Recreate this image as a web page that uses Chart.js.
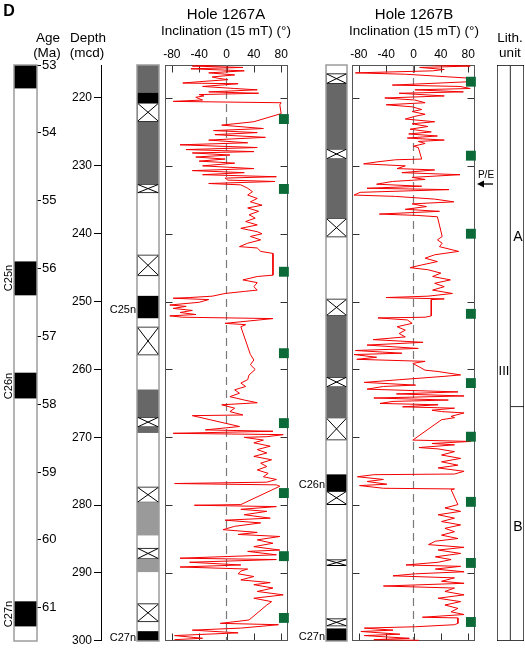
<!DOCTYPE html>
<html>
<head>
<meta charset="utf-8">
<title>Site 1267 inclination</title>
<script src="https://cdn.jsdelivr.net/npm/chart.js@4.4.1/dist/chart.umd.min.js"></script>
<style>
  html, body { margin: 0; padding: 0; background: #fff; }
  #fig { position: relative; width: 525px; height: 650px; overflow: hidden;
         font-family: "Liberation Sans", Arial, Helvetica, sans-serif; color: #000; }
  #fig canvas { position: absolute; top: 0; }
  .lbl { position: absolute; white-space: nowrap; line-height: 1; transform: translate(-50%, -50%); }
  .rt { transform: translate(-100%, -50%); }
  .rot { transform: translate(-50%, -50%) rotate(-90deg); }
</style>
</head>
<body>
<div id="fig">
  <canvas id="ageCol" width="62" height="650" style="left:0px"></canvas>
  <canvas id="depthAxis" width="66" height="650" style="left:40px"></canvas>
  <canvas id="polA" width="36" height="650" style="left:130px"></canvas>
  <canvas id="incA" width="137" height="650" style="left:158px"></canvas>
  <canvas id="polB" width="33" height="650" style="left:320px"></canvas>
  <canvas id="incB" width="137" height="650" style="left:345px"></canvas>
  <canvas id="lith" width="35" height="650" style="left:490px"></canvas>

  <div class="lbl" style="left:9px;top:11px;font-size:16px;font-weight:bold">D</div>
  <div class="lbl" style="left:48px;top:38px;font-size:13.5px">Age</div>
  <div class="lbl" style="left:47px;top:53px;font-size:13.5px">(Ma)</div>
  <div class="lbl" style="left:88px;top:38px;font-size:13.5px">Depth</div>
  <div class="lbl" style="left:87px;top:53px;font-size:13.5px">(mcd)</div>
  <div class="lbl" style="left:226px;top:13px;font-size:15px">Hole 1267A</div>
  <div class="lbl" style="left:226px;top:31px;font-size:13.5px">Inclination (15 mT) (°)</div>
  <div class="lbl" style="left:414px;top:13px;font-size:15px">Hole 1267B</div>
  <div class="lbl" style="left:414px;top:31px;font-size:13.5px">Inclination (15 mT) (°)</div>
  <div class="lbl" style="left:510px;top:38px;font-size:13.5px">Lith.</div>
  <div class="lbl" style="left:510px;top:53px;font-size:13.5px">unit</div>

  <div class="lbl rot" style="left:8px;top:278px;font-size:11px">C25n</div>
  <div class="lbl rot" style="left:8px;top:386px;font-size:11px">C26n</div>
  <div class="lbl rot" style="left:8px;top:614px;font-size:11px">C27n</div>
  <div class="lbl rt" style="left:136px;top:309px;font-size:11px">C25n</div>
  <div class="lbl rt" style="left:136px;top:637px;font-size:11px">C27n</div>
  <div class="lbl rt" style="left:325px;top:484px;font-size:11px">C26n</div>
  <div class="lbl rt" style="left:325px;top:636px;font-size:11px">C27n</div>

  <div class="lbl" style="left:486px;top:175px;font-size:10px">P/E</div>
  <svg style="position:absolute;left:474px;top:178px" width="20" height="12">
    <line x1="19" y1="6" x2="7" y2="6" stroke="#000" stroke-width="1.3"/>
    <path d="M3,6 L10,2.5 L10,9.5 Z" fill="#000"/>
  </svg>

  <div class="lbl" style="left:504px;top:370px;font-size:13px">III</div>
  <div class="lbl" style="left:518px;top:236px;font-size:14px">A</div>
  <div class="lbl" style="left:518px;top:526px;font-size:14px">B</div>
</div>

<script>
Chart.defaults.font.family = '"Liberation Sans", Arial, Helvetica, sans-serif';
Chart.defaults.font.size = 12;
Chart.defaults.color = '#000';

const DEPTH_MIN = 215.14, DEPTH_MAX = 300;
const AGE_MIN = 53, AGE_MAX = 61.49;

const ageTicks = [53, 54, 55, 56, 57, 58, 59, 60, 61];
const depthTicks = [220, 230, 240, 250, 260, 270, 280, 290, 300];
const incTicks = [-80, -40, 0, 40, 80];

// GPTS column, normal chrons (Ma)
const ageNormal = [[53.0, 53.34], [55.9, 56.39], [57.54, 57.91], [60.91, 61.27]];

// Hole 1267A polarity column (mcd)
const polA_normal = [[219.3, 220.7], [249.2, 252.4], [298.6, 300]];
const polA_reversed = [[215.14, 219.3], [223.5, 232.7], [263.0, 267.0], [268.5, 269.3]];
const polA_uncertain = [[279.6, 284.4], [287.9, 289.8]];
const polA_gap = [[220.7, 223.5], [232.7, 234.0], [243.1, 246.2], [253.7, 257.9], [267.0, 268.5],
                  [277.3, 279.6], [286.3, 287.9], [294.5, 297.2]];

// Hole 1267B polarity column (mcd)
const polB_normal = [[275.5, 277.9], [298.2, 300]];
const polB_reversed = [[217.9, 227.5], [229.0, 237.7], [252.1, 261.1], [262.6, 267.1]];
const polB_gap = [[216.4, 217.9], [227.5, 229.0], [237.7, 240.5], [249.6, 252.1], [261.1, 262.6],
                  [267.1, 270.4], [277.9, 279.9], [288.0, 288.9], [296.7, 297.8]];

// lithologic units (mcd)
const unitIII = [DEPTH_MIN, DEPTH_MAX];
const subunitA = [DEPTH_MIN, 265.5];
const subunitB = [265.5, DEPTH_MAX];

// [depth mcd, inclination deg]
const incA = [
  [215.0, 9], [215.3, -50], [215.5, 24], [215.7, -52], [216.0, 26], [216.3, -26], [216.6, 12], [216.9, -21],
  [217.1, -12], [217.3, 2], [217.6, -40], [217.8, -64], [217.9, 17], [218.3, -35], [218.6, 12], [218.8, 45],
  [219.1, -26], [219.3, 47], [219.5, -40], [219.7, -33], [219.9, -45], [220.3, -35], [220.5, -78], [220.7, 80],
  [221.0, 78], [222.3, 80], [223.5, 40], [224.0, -7], [224.5, 54], [224.8, -19], [225.1, 45], [225.4, -17],
  [225.8, 57], [226.2, -26], [226.6, 31], [226.9, -68], [227.3, 45], [227.6, -59], [227.9, 40], [228.1, -50],
  [228.4, 5], [228.7, -45], [229.0, -2], [229.3, -40], [229.6, 12], [230.0, -35], [230.4, 40], [230.7, -50],
  [231.0, 26], [231.3, -35], [231.6, 73], [231.8, -2], [232.1, 2], [232.3, 71], [232.6, -26], [232.8, 21],
  [233.3, 31], [233.8, 38], [234.3, 31], [234.8, 45], [235.3, 35], [235.8, 52], [236.2, 31], [236.7, 47],
  [237.2, 33], [237.7, 42], [238.2, 28], [238.7, 45], [239.2, 21], [239.7, 45], [240.0, 52], [240.4, 35],
  [240.9, 50], [241.4, 31], [241.9, 19], [242.1, 45], [242.6, 50], [242.9, 68], [246.1, 68], [246.3, 45],
  [246.8, 24], [247.2, 45], [247.8, 40], [248.3, 45], [248.5, 26], [248.8, -2], [249.2, -21], [249.4, -54],
  [249.5, -78], [249.7, -26], [250.1, -40], [250.5, -83], [250.7, -59], [251.0, -78], [251.3, -50], [251.6, -68],
  [251.9, -45], [252.1, -83], [252.3, -64], [252.5, 68], [253.2, -2], [253.4, 28], [253.7, 21], [257.8, 35],
  [258.6, 40], [259.3, 35], [260.0, 42], [260.8, 33], [261.5, 31], [262.0, 21], [262.5, 28], [263.0, 12],
  [263.5, 19], [264.0, 5], [264.5, 26], [264.9, 45], [265.2, -7], [265.7, 12], [266.2, 5], [266.7, 24],
  [266.8, -50], [268.4, 19], [268.9, -31], [269.1, 68], [269.4, -78], [269.6, 83], [269.9, 59], [270.0, 26],
  [270.4, 54], [270.8, 40], [271.3, 64], [271.8, 45], [272.3, 59], [272.8, 40], [273.3, 66], [273.8, 50],
  [274.3, 59], [274.8, 45], [275.3, 61], [275.8, 54], [276.2, 73], [276.6, 59], [276.8, -76], [277.0, 73],
  [277.2, 78], [279.9, 21], [280.0, -47], [280.2, 73], [280.6, 21], [280.9, 59], [281.4, 26], [281.9, 64],
  [282.2, -2], [282.6, 50], [283.1, 12], [283.6, -5], [284.0, 45], [284.3, 17], [284.6, 78], [285.1, 45],
  [285.6, 68], [286.1, 40], [286.6, 78], [286.8, 31], [287.3, 73], [287.8, -68], [288.0, 73], [288.4, -54],
  [288.8, 21], [289.1, -68], [289.4, 31], [289.7, 21], [290.1, 17], [290.5, 40], [291.0, 21], [291.4, 64],
  [291.7, 40], [292.2, 68], [292.7, 45], [293.2, 83], [293.7, 40], [294.2, 66], [294.7, 59], [296.9, 33],
  [297.1, 17], [297.4, -9], [297.6, 76], [298.1, 21], [298.4, -50], [298.8, 17], [299.2, -76], [299.6, -35],
  [299.8, -76]
];

const incB = [
  [215.1, 26], [215.3, 83], [215.5, 9], [215.8, 45], [216.0, 28], [216.3, -85], [216.5, -12], [217.1, 85],
  [217.6, 83], [218.1, -31], [218.3, 68], [218.6, 83], [218.8, 2], [219.1, 73], [219.3, -21], [219.7, 45],
  [220.0, -42], [220.3, 2], [220.7, 17], [221.0, -40], [221.3, -2], [221.7, 12], [222.0, -2], [222.4, 17],
  [222.7, 2], [223.1, -12], [223.5, 31], [223.8, -2], [224.2, 21], [224.6, -5], [225.0, 26], [225.3, -7],
  [225.6, 35], [225.9, -9], [226.2, 45], [226.4, 7], [226.7, 17], [227.1, 0], [227.3, 7], [229.0, 12],
  [229.1, -26], [229.4, -52], [229.7, -73], [230.0, -12], [230.4, -24], [230.6, 31], [231.0, -17], [231.3, 68],
  [231.7, -2], [232.0, 17], [232.3, -31], [232.7, -54], [233.0, 12], [233.3, -68], [233.5, 52], [233.9, -78],
  [234.3, -87], [234.5, -26], [234.9, 31], [235.3, 59], [235.6, -2], [236.0, 19], [236.4, -12], [236.7, 38],
  [237.1, -50], [237.3, 5], [237.5, 35], [240.4, 42], [240.9, 35], [241.4, 42], [241.9, 38], [242.6, 66],
  [243.1, 31], [243.6, 17], [244.1, 35], [244.6, 12], [245.0, -5], [245.3, 21], [245.8, 40], [246.3, 28],
  [246.8, 54], [247.3, 31], [247.8, 45], [248.3, 28], [248.8, 57], [249.2, 21], [249.4, -40], [249.6, 45],
  [249.7, 26], [252.1, 26], [252.3, 17], [252.4, -52], [252.7, -9], [253.2, -2], [253.7, -24], [254.2, -12],
  [254.7, -21], [255.2, -12], [255.6, -59], [256.0, 14], [256.4, -68], [256.9, 7], [257.2, -85], [257.6, -17],
  [257.8, -87], [258.2, -54], [258.5, -83], [258.8, 17], [259.1, -1], [259.6, 8], [260.1, 17], [260.3, 36],
  [260.8, 69], [261.0, 46], [261.5, -20], [261.9, -72], [262.3, 3], [262.5, -44], [262.9, -68], [263.3, 65],
  [263.6, -25], [263.9, 74], [264.2, -58], [264.5, 51], [264.7, -30], [265.0, -49], [265.2, 36], [265.5, -16],
  [265.7, 60], [266.0, 27], [266.2, 41], [266.4, 74], [266.9, 55], [267.1, 60], [267.4, 41], [270.4, -1],
  [270.6, 84], [270.9, 27], [271.1, 60], [271.5, 8], [271.7, 36], [272.1, 60], [272.6, 41], [273.1, 69],
  [273.6, 41], [274.1, 65], [274.5, 36], [275.0, 74], [275.4, 60], [275.5, -58], [275.8, -82], [276.2, -44],
  [276.5, -68], [276.9, -39], [277.1, -79], [277.5, -44], [277.6, 60], [277.7, 55], [279.9, 65], [280.4, 46],
  [280.9, 69], [281.4, 36], [281.9, 60], [282.4, 41], [282.9, 69], [283.4, 46], [283.9, 60], [284.4, 41],
  [284.9, 65], [285.3, 32], [285.8, 22], [286.2, 74], [286.6, 36], [287.1, 69], [287.6, 32], [288.0, 55],
  [288.4, 36], [288.8, -11], [289.0, 69], [289.4, 32], [289.8, 74], [290.1, 3], [290.4, -30], [290.7, 60],
  [291.2, 41], [291.5, 74], [291.9, -44], [292.2, 60], [292.7, 46], [293.2, 74], [293.7, 36], [294.2, 69],
  [294.7, 46], [295.2, 65], [295.7, 55], [296.1, 74], [296.5, 13], [296.6, 65], [297.4, 65], [297.6, 60],
  [297.9, 3], [298.1, -72], [298.4, -30], [298.6, -77], [299.0, -20], [299.2, -72], [299.6, -6], [299.8, -58],
  [299.9, 8]
];

// discrete sample depths (green squares, plotted at the right edge)
const samplesA = [223.1, 233.4, 245.6, 257.6, 267.9, 278.2, 287.5, 296.6];
const samplesB = [217.6, 228.5, 240.0, 251.8, 262.0, 269.9, 279.5, 288.5, 297.2];
const SAMPLE_MARK = 84;

// draw an X across the "no data" boxes
const crossBoxes = {
  id: 'crossBoxes',
  afterDatasetsDraw(chart) {
    const ctx = chart.ctx;
    chart.data.datasets.forEach((ds, i) => {
      if (!ds.crossed) return;
      chart.getDatasetMeta(i).data.forEach(bar => {
        const { x, y, base, width } = bar.getProps(['x', 'y', 'base', 'width'], true);
        const l = x - width / 2, r = x + width / 2;
        ctx.save();
        ctx.strokeStyle = '#000';
        ctx.lineWidth = 1;
        ctx.beginPath();
        ctx.moveTo(l, y); ctx.lineTo(r, base);
        ctx.moveTo(r, y); ctx.lineTo(l, base);
        ctx.stroke();
        ctx.restore();
      });
    });
  }
};

const columnFrame = {
  id: 'columnFrame',
  afterDatasetsDraw(chart) {
    const { ctx, chartArea: a } = chart;
    ctx.save();
    ctx.strokeStyle = '#9c9c9c';
    ctx.lineWidth = 1.5;
    ctx.strokeRect(a.left, a.top, a.right - a.left, a.bottom - a.top);
    ctx.restore();
  }
};

// frame with inward ticks on all four sides
const panelFrame = {
  id: 'panelFrame',
  beforeDatasetsDraw(chart) {
    const { ctx, chartArea: a, scales: { x, y } } = chart;
    const L = Math.round(a.left) + 0.5, R = Math.round(a.right) - 0.5;
    const T = Math.round(a.top) + 0.5, B = Math.round(a.bottom) - 0.5;
    ctx.save();
    ctx.strokeStyle = '#333';
    ctx.lineWidth = 1;
    ctx.beginPath();
    incTicks.forEach(v => {
      const px = Math.round(x.getPixelForValue(v)) + 0.5;
      ctx.moveTo(px, T); ctx.lineTo(px, T + 7);
      ctx.moveTo(px, B); ctx.lineTo(px, B - 7);
    });
    depthTicks.forEach(v => {
      if (v >= DEPTH_MAX) return;
      const py = Math.round(y.getPixelForValue(v)) + 0.5;
      ctx.moveTo(L, py); ctx.lineTo(L + 7, py);
      ctx.moveTo(R, py); ctx.lineTo(R - 7, py);
    });
    ctx.stroke();
    ctx.strokeStyle = '#555';
    ctx.strokeRect(L, T, R - L, B - T);
    ctx.restore();
  }
};

function blockSet(ranges, color, crossed, label) {
  return {
    data: ranges.map(r => ({ x: label || 'col', y: r })),
    backgroundColor: color,
    borderColor: '#000',
    borderWidth: crossed ? 1 : 0,
    borderSkipped: false,
    grouped: false,
    categoryPercentage: 1,
    barPercentage: 1,
    crossed: !!crossed
  };
}

function columnChart(id, labels, datasets, yScale, padding) {
  return new Chart(document.getElementById(id), {
    type: 'bar',
    data: { labels, datasets },
    options: {
      responsive: false,
      animation: false,
      layout: { padding },
      plugins: { legend: { display: false }, tooltip: { enabled: false } },
      scales: { x: { display: false }, y: yScale }
    },
    plugins: [crossBoxes, columnFrame]
  });
}

const depthScale = { display: false, reverse: true, min: DEPTH_MIN, max: DEPTH_MAX };

// age (GPTS) column
columnChart('ageCol', ['col'], [blockSet(ageNormal, '#000')], {
  position: 'right', reverse: true, min: AGE_MIN, max: AGE_MAX,
  afterFit: s => { s.width = 25; },
  afterBuildTicks: s => { s.ticks = ageTicks.map(v => ({ value: v })); },
  border: { display: false },
  grid: { drawOnChartArea: false, tickLength: 4, color: '#000' },
  ticks: { padding: 1, font: { size: 13 } }
}, { left: 14, top: 65, bottom: 9, right: 0 });

// depth axis
new Chart(document.getElementById('depthAxis'), {
  type: 'scatter',
  data: { datasets: [] },
  options: {
    responsive: false,
    animation: false,
    layout: { padding: { top: 65, bottom: 9, left: 0, right: 0 } },
    plugins: { legend: { display: false }, tooltip: { enabled: false } },
    scales: {
      x: { display: false, min: 0, max: 1 },
      y: {
        position: 'left', reverse: true, min: DEPTH_MIN, max: DEPTH_MAX,
        afterFit: s => { s.width = 61; },
        afterBuildTicks: s => { s.ticks = depthTicks.map(v => ({ value: v })); },
        border: { color: '#000', width: 1 },
        grid: { drawOnChartArea: false, tickLength: 7, color: '#000' },
        ticks: { padding: 2 }
      }
    }
  }
});

columnChart('polA', ['col'], [
  blockSet(polA_normal, '#000'),
  blockSet(polA_reversed, '#676767'),
  blockSet(polA_uncertain, '#9a9a9a'),
  blockSet(polA_gap, '#fff', true)
], depthScale, { left: 7, right: 7, top: 65, bottom: 9 });

columnChart('polB', ['col'], [
  blockSet(polB_normal, '#000'),
  blockSet(polB_reversed, '#676767'),
  blockSet(polB_gap, '#fff', true)
], depthScale, { left: 6, right: 6, top: 65, bottom: 9 });

// lithologic unit column
const lithA = blockSet([subunitA], '#fff', false, 'sub');
lithA.borderWidth = { top: 1, right: 1, bottom: 1, left: 0 };
const lithB = blockSet([subunitB], '#fff', false, 'sub');
lithB.borderWidth = { top: 0, right: 1, bottom: 1, left: 0 };
const lithIII = blockSet([unitIII], '#fff', false, 'unit');
lithIII.borderWidth = 1;
new Chart(document.getElementById('lith'), {
  type: 'bar',
  data: { labels: ['unit', 'sub'], datasets: [lithIII, lithA, lithB] },
  options: {
    responsive: false,
    animation: false,
    layout: { padding: { left: 7, right: 1, top: 65, bottom: 9 } },
    plugins: { legend: { display: false }, tooltip: { enabled: false } },
    scales: { x: { display: false }, y: depthScale }
  }
});

function inclinationPanel(id, series, samples, padding) {
  return new Chart(document.getElementById(id), {
    type: 'scatter',
    data: {
      datasets: [
        {
          data: samples.map(d => ({ x: SAMPLE_MARK, y: d })),
          pointStyle: 'rect', pointRadius: 7,
          pointBackgroundColor: '#0b6a38', pointBorderWidth: 0,
          clip: false
        },
        {
          data: series.map(p => ({ x: p[1], y: p[0] })),
          showLine: true, pointRadius: 0,
          borderColor: '#f20000', borderWidth: 1, borderJoinStyle: 'bevel'
        },
        {
          data: [{ x: 0, y: DEPTH_MIN }, { x: 0, y: DEPTH_MAX }],
          showLine: true, pointRadius: 0,
          borderColor: '#7a7a7a', borderWidth: 1.2, borderDash: [8, 5]
        }
      ]
    },
    options: {
      responsive: false,
      animation: false,
      layout: { padding },
      plugins: { legend: { display: false }, tooltip: { enabled: false } },
      scales: {
        x: {
          position: 'top', min: -90, max: 90,
          afterFit: s => { s.height = 65; },
          afterBuildTicks: s => { s.ticks = incTicks.map(v => ({ value: v })); },
          grid: { display: false, drawTicks: false },
          border: { display: false },
          ticks: { padding: 3, font: { size: 12 } }
        },
        y: depthScale
      }
    },
    plugins: [panelFrame]
  });
}

inclinationPanel('incA', incA, samplesA, { left: 5, right: 5, top: 0, bottom: 9 });
inclinationPanel('incB', incB, samplesB, { left: 5, right: 6, top: 0, bottom: 9 });
</script>
</body>
</html>
